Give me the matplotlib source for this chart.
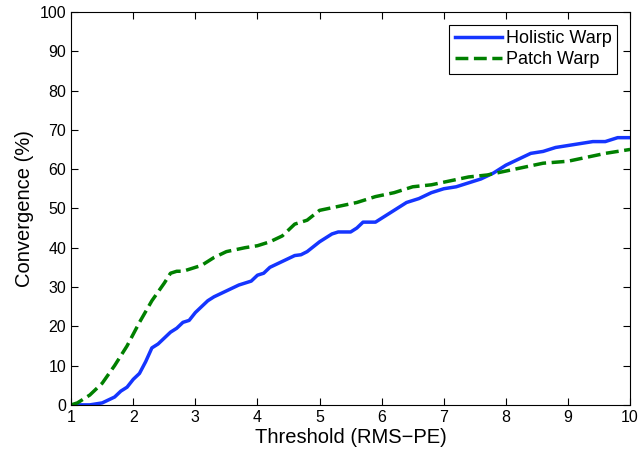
import matplotlib
matplotlib.use("Agg")
import matplotlib.pyplot as plt

plt.rcParams['font.family'] = ['Liberation Sans', 'DejaVu Sans']

# Holistic Warp (solid blue)
holistic_x = [1.0, 1.3, 1.5, 1.7, 1.8, 1.9, 2.0, 2.1, 2.2, 2.3, 2.4, 2.5, 2.6, 2.7,
              2.8, 2.9, 3.0, 3.1, 3.2, 3.3, 3.5, 3.7, 3.9, 4.0, 4.1, 4.2, 4.4, 4.6,
              4.7, 4.8, 5.0, 5.2, 5.3, 5.5, 5.6, 5.7, 5.9, 6.0, 6.2, 6.3, 6.4, 6.6,
              6.8, 7.0, 7.2, 7.4, 7.6, 7.8, 8.0, 8.2, 8.4, 8.6, 8.8, 9.0, 9.2, 9.4,
              9.6, 9.8, 10.0]
holistic_y = [0, 0, 0.5, 2, 3.5, 4.5, 6.5, 8, 11, 14.5, 15.5, 17, 18.5, 19.5,
              21, 21.5, 23.5, 25, 26.5, 27.5, 29, 30.5, 31.5, 33, 33.5, 35, 36.5, 38,
              38.2, 39, 41.5, 43.5, 44, 44, 45, 46.5, 46.5, 47.5, 49.5, 50.5, 51.5, 52.5,
              54, 55, 55.5, 56.5, 57.5, 59, 61, 62.5, 64, 64.5, 65.5, 66, 66.5, 67,
              67, 68, 68]

# Patch Warp (dashed green)
patch_x = [1.0, 1.1, 1.3, 1.5, 1.7, 1.9, 2.1, 2.3, 2.5, 2.6, 2.7, 2.8, 3.0, 3.1,
           3.3, 3.5, 3.8, 4.0, 4.2, 4.4, 4.5, 4.6, 4.8, 5.0, 5.3, 5.6, 5.9, 6.2,
           6.5, 6.8, 7.1, 7.4, 7.7, 8.0, 8.3, 8.6, 9.0, 9.3, 9.6, 10.0]
patch_y = [0, 0.5, 2.5, 5.5, 10, 15, 21, 26.5, 31, 33.5, 34, 34, 35, 35.5,
           37.5, 39, 40, 40.5, 41.5, 43, 44.5, 46, 47, 49.5, 50.5, 51.5, 53, 54,
           55.5, 56, 57, 58, 58.5, 59.5, 60.5, 61.5, 62, 63, 64, 65]

fig = plt.figure(figsize=(6.41, 4.58), dpi=100)
ax = fig.add_axes([0.111, 0.116, 0.872, 0.858])

ax.plot(holistic_x, holistic_y, '-', color='#1535ff', lw=2.5, label='Holistic Warp')
ax.plot(patch_x, patch_y, '--', color='#008000', lw=2.5, label='Patch Warp')

ax.set_xlim(1, 10)
ax.set_ylim(0, 100)
ax.set_xticks(range(1, 11))
ax.set_yticks(range(0, 101, 10))
ax.tick_params(direction='in', top=True, right=True, labelsize=11.5, length=5)
ax.set_xlabel('Threshold (RMS\u2212PE)', fontsize=14.5, labelpad=2)
ax.set_ylabel('Convergence (%)', fontsize=14.5, labelpad=4)

leg = ax.legend(loc='upper right', fontsize=13, fancybox=False, framealpha=1,
                edgecolor='black', handlelength=2.6, borderpad=0.3,
                labelspacing=0.25, handletextpad=0.25, borderaxespad=0.7)
leg.get_frame().set_linewidth(0.8)

fig.savefig('out.png', dpi=100)
